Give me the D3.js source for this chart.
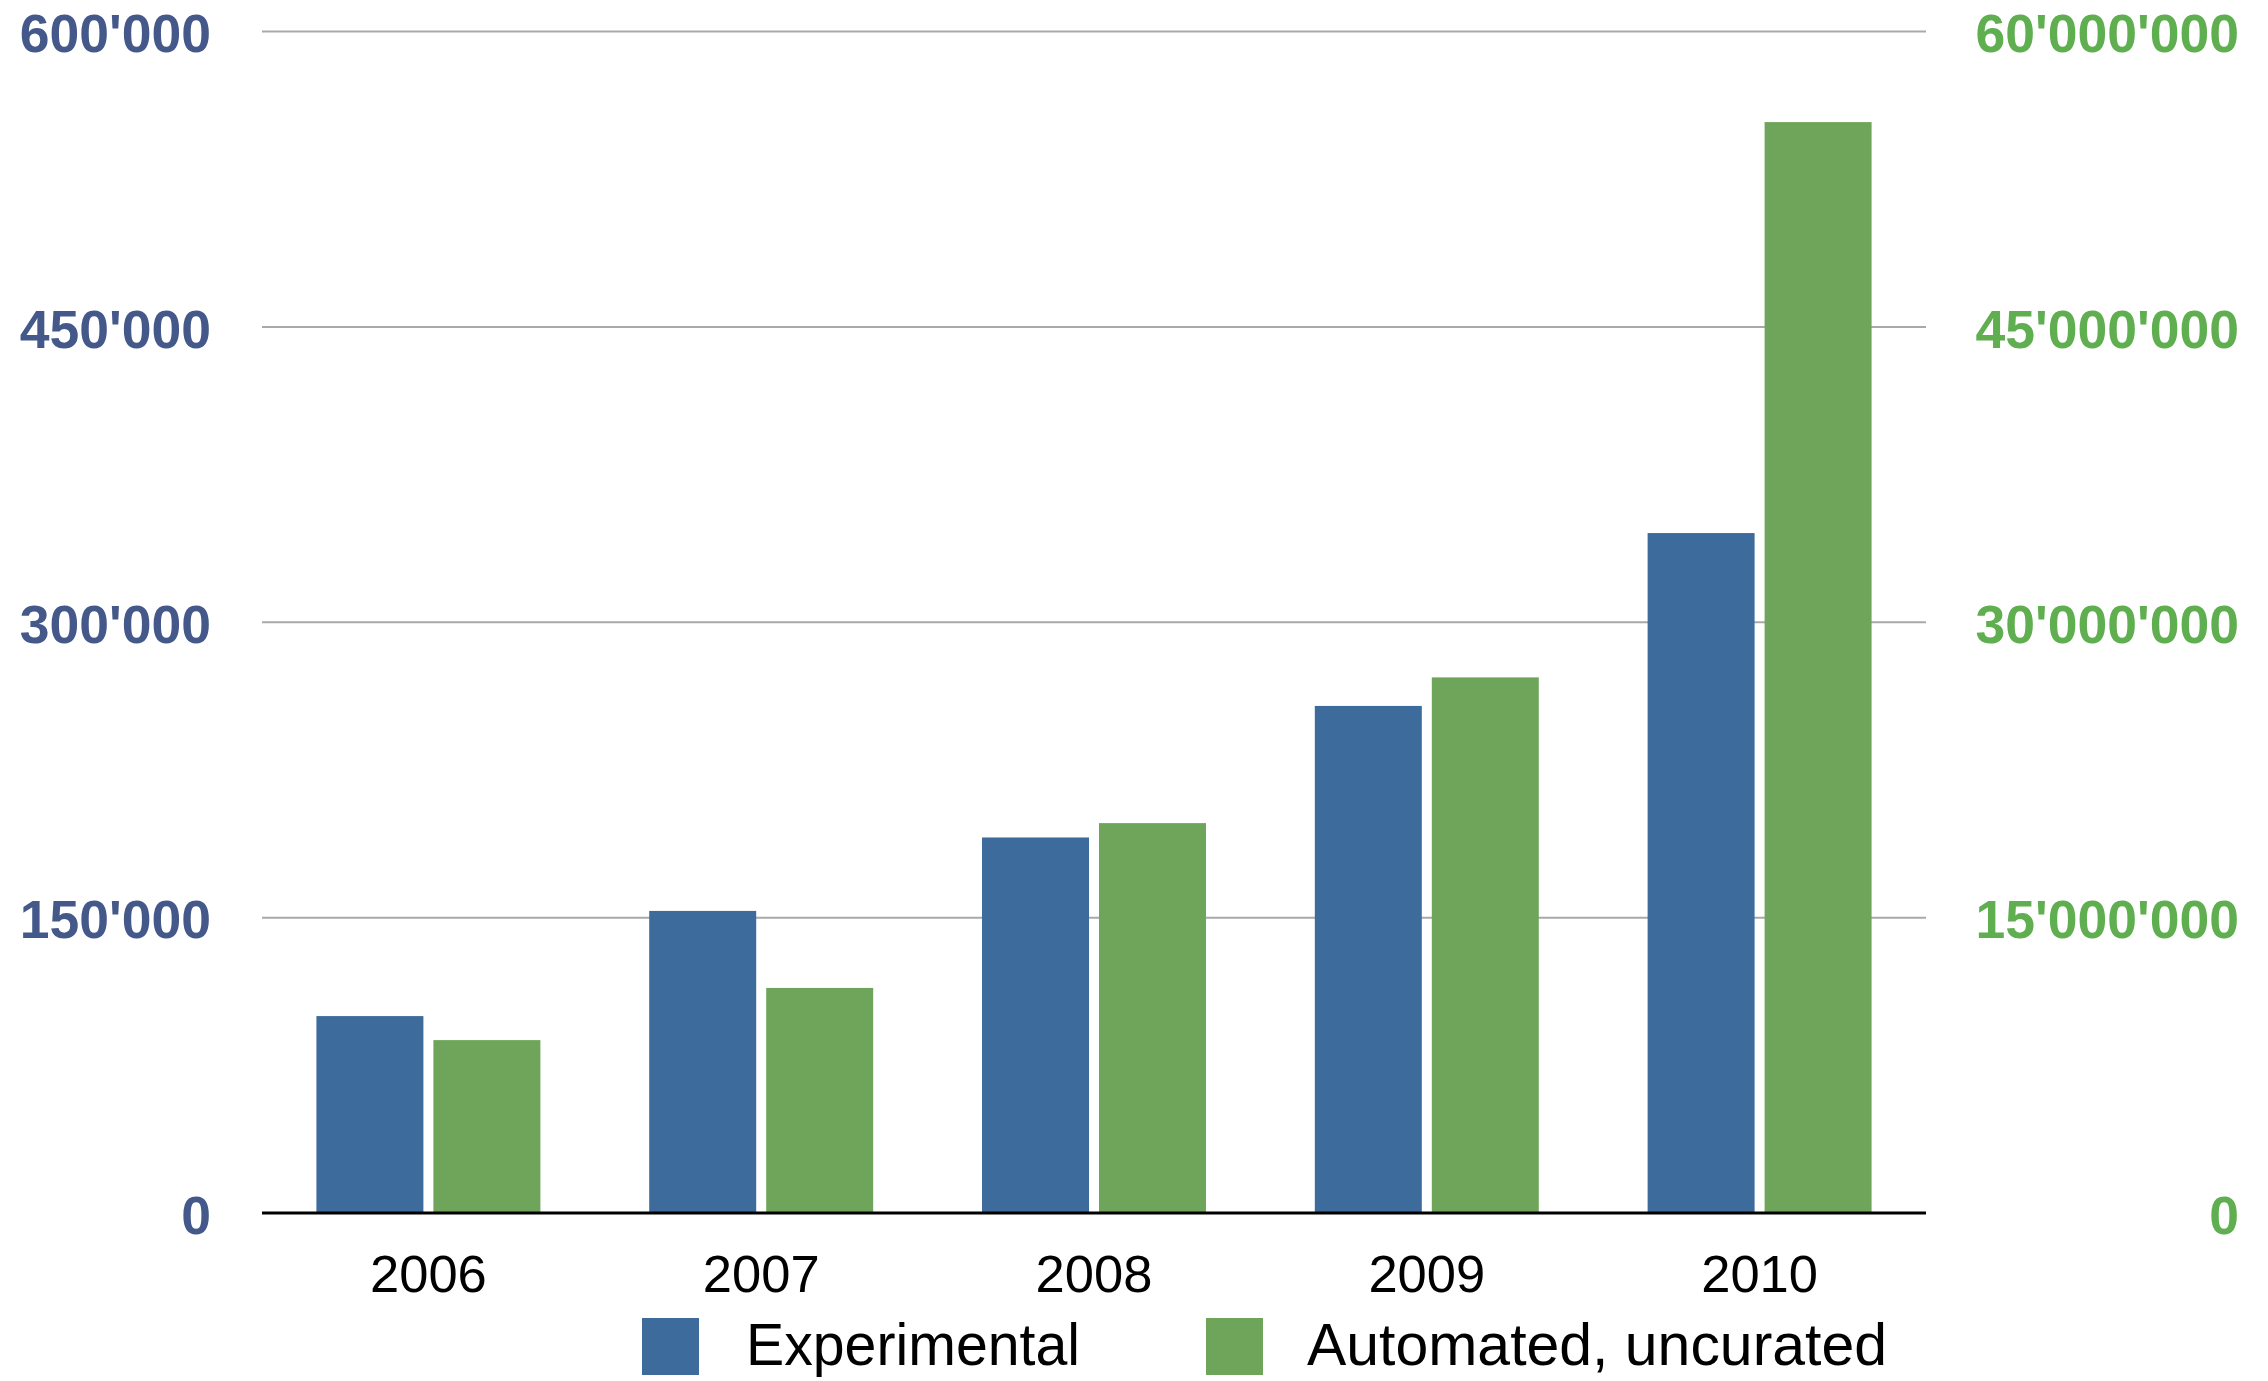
<!DOCTYPE html>
<html>
<head>
<meta charset="utf-8">
<script src="https://cdn.jsdelivr.net/npm/d3@7"></script>
<style>
  html, body { margin: 0; padding: 0; background: #ffffff; }
  svg { display: block; font-family: "Liberation Sans", Arial, Helvetica, sans-serif; }
</style>
</head>
<body>
<svg id="chart" width="2268" height="1381"></svg>
<script>
// Yearly record counts: experimental (left axis) and automated, uncurated (right axis)
const years = ["2006", "2007", "2008", "2009", "2010"];
const experimental = [100000, 153400, 190700, 257500, 345300];
const automated = [8780000, 11430000, 19800000, 27200000, 55400000];
const leftTicks = [0, 150000, 300000, 450000, 600000];
const rightTicks = [0, 15000000, 30000000, 45000000, 60000000];
const seriesNames = ["Experimental", "Automated, uncurated"];

const colors = {
  expBar: "#3d6c9c",
  autoBar: "#6fa55a",
  expLabel: "#44598a",
  autoLabel: "#5fae4f",
  grid: "#a9a9a9"
};

const plot = { left: 262, right: 1926, top: 31.5, bottom: 1213 };

const svg = d3.select("#chart");

const yLeft = d3.scaleLinear().domain([0, 600000]).range([plot.bottom, plot.top]);
const yRight = d3.scaleLinear().domain([0, 60000000]).range([plot.bottom, plot.top]);

const x0 = d3.scaleBand().domain(years).range([plot.left, plot.right])
  .paddingInner(0.327).paddingOuter(0.1635);
const x1 = d3.scaleBand().domain(["exp", "auto"]).range([0, x0.bandwidth()])
  .paddingInner(0.0855);

const fmt = v => d3.format(",")(v).replace(/,/g, "'");

// Horizontal gridlines
svg.append("g")
  .selectAll("line")
  .data(leftTicks.filter(t => t > 0))
  .join("line")
  .attr("x1", plot.left).attr("x2", plot.right)
  .attr("y1", d => yLeft(d)).attr("y2", d => yLeft(d))
  .attr("stroke", colors.grid).attr("stroke-width", 2);

// Bars
const rows = years.map((y, i) => ({ year: y, exp: experimental[i], auto: automated[i] }));
const groups = svg.append("g").selectAll("g")
  .data(rows)
  .join("g")
  .attr("transform", d => `translate(${x0(d.year)},0)`);

groups.append("rect")
  .attr("x", x1("exp")).attr("width", x1.bandwidth())
  .attr("y", d => yLeft(d.exp)).attr("height", d => plot.bottom - yLeft(d.exp))
  .attr("fill", colors.expBar);

groups.append("rect")
  .attr("x", x1("auto")).attr("width", x1.bandwidth())
  .attr("y", d => yRight(d.auto)).attr("height", d => plot.bottom - yRight(d.auto))
  .attr("fill", colors.autoBar);

// Baseline
svg.append("line")
  .attr("x1", plot.left).attr("x2", plot.right)
  .attr("y1", plot.bottom).attr("y2", plot.bottom)
  .attr("stroke", "#000").attr("stroke-width", 3);

// Left axis
const leftAxis = svg.append("g")
  .attr("transform", `translate(${plot.left},0)`)
  .call(d3.axisLeft(yLeft).tickValues(leftTicks).tickSize(0).tickPadding(51).tickFormat(fmt));
leftAxis.select(".domain").remove();
leftAxis.selectAll("text")
  .attr("dy", "0.38em")
  .attr("fill", colors.expLabel)
  .style("font-size", "53.5px").style("font-weight", "bold")
  .style("font-family", "'Liberation Sans', Arial, sans-serif");

// Right axis
const rightAxis = svg.append("g")
  .attr("transform", `translate(${plot.right},0)`)
  .call(d3.axisRight(yRight).tickValues(rightTicks).tickSize(0).tickFormat(fmt));
rightAxis.select(".domain").remove();
rightAxis.selectAll("text")
  .attr("x", 313).attr("text-anchor", "end")
  .attr("dy", "0.38em")
  .attr("fill", colors.autoLabel)
  .style("font-size", "53.5px").style("font-weight", "bold")
  .style("font-family", "'Liberation Sans', Arial, sans-serif");

// Category axis
const xAxis = svg.append("g")
  .attr("transform", `translate(0,${plot.bottom})`)
  .call(d3.axisBottom(x0).tickSize(0).tickPadding(0));
xAxis.select(".domain").remove();
xAxis.selectAll("text")
  .attr("y", 79).attr("dy", 0)
  .attr("fill", "#000")
  .style("font-size", "52.5px")
  .style("font-family", "'Liberation Sans', Arial, sans-serif");

// Legend along the bottom edge
const legendItems = [
  { name: seriesNames[0], color: colors.expBar, x: 642, tx: 746, w: 334 },
  { name: seriesNames[1], color: colors.autoBar, x: 1206, tx: 1307, w: 580 }
];
const legend = svg.append("g");
legend.selectAll("rect")
  .data(legendItems)
  .join("rect")
  .attr("x", d => d.x).attr("y", 1318)
  .attr("width", 57).attr("height", 57)
  .attr("fill", d => d.color);
legend.selectAll("text")
  .data(legendItems)
  .join("text")
  .attr("x", d => d.tx).attr("y", 1365)
  .attr("textLength", d => d.w).attr("lengthAdjust", "spacingAndGlyphs")
  .attr("fill", "#000")
  .style("font-size", "60px")
  .text(d => d.name);
</script>
</body>
</html>
